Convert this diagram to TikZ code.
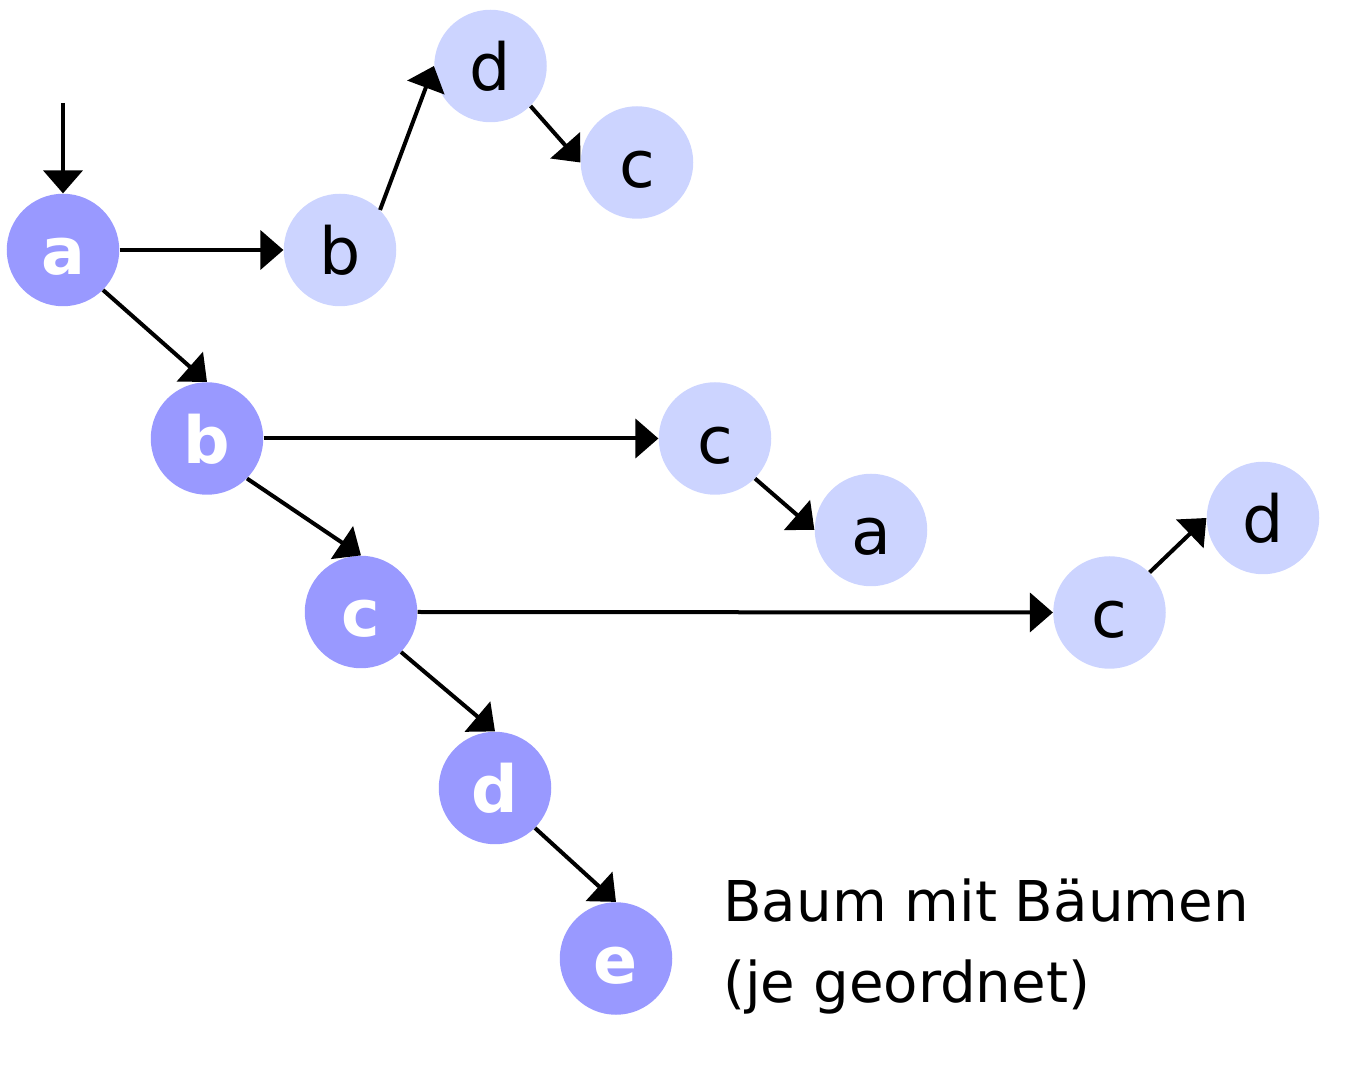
\documentclass[tikz,border=0pt]{standalone}
\usepackage{fontspec}
\setmainfont{DejaVu Sans}
\usepackage{tikz}
\usetikzlibrary{arrows.meta}
\definecolor{treeblue}{HTML}{9999FF}
\definecolor{subblue}{HTML}{CCD4FF}

\begin{document}
\begin{tikzpicture}[
    mainnode/.style={circle, fill=treeblue, text=white, minimum size=2.25cm, inner sep=0pt, font=\fontsize{37}{44}\selectfont\bfseries, text height=1cm, text depth=0pt},
    subnode/.style={circle, fill=subblue, minimum size=2.25cm, inner sep=0pt, font=\fontsize{37}{44}\selectfont, text height=1cm, text depth=0pt},
    link/.style={-{Triangle[length=0.46cm, width=0.78cm]}, line width=0.08cm}]
    \useasboundingbox (0,0) rectangle (27.04,-21.46);
    % main tree
    \coordinate (start) at (1.26,-2.06);
    \node[mainnode] (ha) at (1.26,-5.0) {a};
    \node[mainnode] (hb) at (4.14,-8.77) {b};
    \node[mainnode] (hc) at (7.22,-12.24) {c};
    \node[mainnode] (hd) at (9.90,-15.76) {d};
    \node[mainnode] (he) at (12.32,-19.17) {e};
    % trees in the nodes
    \node[subnode] (ab) at (6.80,-5.0) {b};
    \node[subnode] (abd) at (9.81,-1.32) {d};
    \node[subnode] (abc) at (12.74,-3.25) {c};
    \node[subnode] (bc) at (14.30,-8.77) {c};
    \node[subnode] (bca) at (17.42,-10.60) {a};
    \node[subnode] (cc) at (22.19,-12.25) {c};
    \node[subnode] (ccd) at (25.26,-10.36) {d};
    \node[anchor=base west, align=left, inner sep=0pt, font=\fontsize{32}{46}\selectfont] (note) at (14.46,-20.04) {Baum mit Bäumen\\(je geordnet)};
    \draw[link] (start) -- (ha.north);
    \draw[link] (ha.east) -- (ab.west);
    \draw[link] (ab.north east) -- (abd.west);
    \draw[link] (abd.south east) -- (abc.west);
    \draw[link] (ha.south east) -- (hb.north);
    \draw[link] (hb.east) -- (bc.west);
    \draw[link] (bc.south east) -- (bca.west);
    \draw[link] (hb.south east) -- (hc.north);
    \draw[link] (hc.east) -- (cc.west);
    \draw[link] (cc.north east) -- (ccd.west);
    \draw[link] (hc.south east) -- (hd.north);
    \draw[link] (hd.south east) -- (he.north);
  \end{tikzpicture}
\end{document}
